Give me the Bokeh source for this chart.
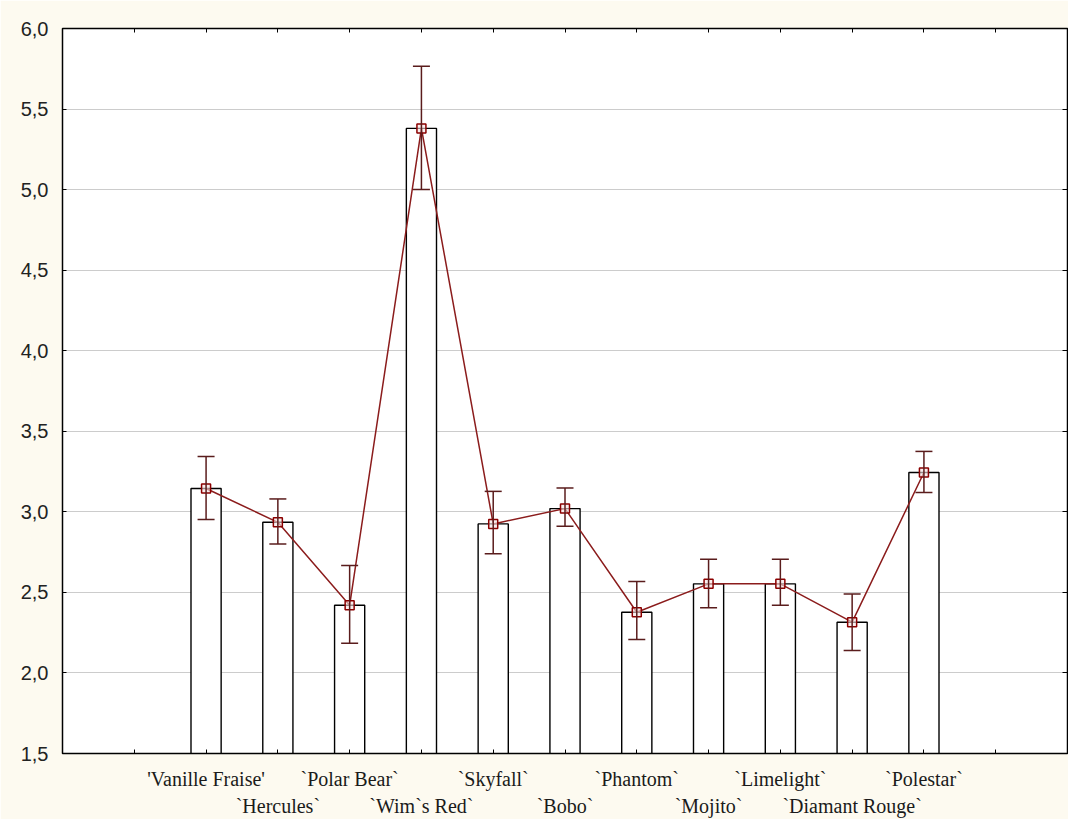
from bokeh.plotting import figure
from bokeh.models import (LinearAxis, FixedTicker, CustomJSTickFormatter, ColumnDataSource,
                          Whisker, TeeHead, Range1d, Grid)
from bokeh.embed import file_html
from bokeh.resources import INLINE

# ---- data ----
cultivars = ["'Vanille Fraise'", "`Hercules`", "`Polar Bear`", "`Wim`s Red`", "`Skyfall`",
             "`Bobo`", "`Phantom`", "`Mojito`", "`Limelight`", "`Diamant Rouge`", "`Polestar`"]
means = [3.145, 2.935, 2.42, 5.38, 2.925, 3.02, 2.377, 2.553, 2.553, 2.315, 3.244]
upper = [3.343, 3.08, 2.667, 5.766, 3.127, 3.148, 2.567, 2.705, 2.705, 2.49, 3.375]
lower = [2.952, 2.80, 2.185, 5.00, 2.74, 2.91, 2.207, 2.405, 2.42, 2.14, 3.12]
y_ticks = [1.5, 2.0, 2.5, 3.0, 3.5, 4.0, 4.5, 5.0, 5.5, 6.0]

positions = [i + 1 for i in range(len(cultivars))]
all_slots = list(range(0, len(cultivars) + 2))
row1 = {pos: name for pos, name in zip(positions, cultivars) if pos % 2 == 1}
row2 = {pos: name for pos, name in zip(positions, cultivars) if pos % 2 == 0}

src = ColumnDataSource(dict(x=positions, mean=means, upper=upper, lower=lower))

p = figure(frame_width=1005, frame_height=725,
           x_range=Range1d(-1, len(cultivars) + 2), y_range=Range1d(y_ticks[0], y_ticks[-1]),
           output_backend="svg", toolbar_location=None,
           x_axis_location=None, y_axis_location=None,
           min_border_left=62, min_border_top=28, min_border_right=1, min_border_bottom=10)
p.renderers = []
p.center = [r for r in p.center if not isinstance(r, Grid)]
p.background_fill_color = "white"
p.border_fill_color = "#FDFAF0"
p.outline_line_color = "black"
p.outline_line_width = 1.5

empty_fmt = CustomJSTickFormatter(code="return ''")

# left axis
yax = LinearAxis(ticker=FixedTicker(ticks=y_ticks),
                 formatter=CustomJSTickFormatter(code="return tick.toFixed(1).replace('.', ',')"),
                 major_tick_in=4, major_tick_out=0, minor_tick_line_color=None,
                 axis_line_color="black", major_tick_line_color="black",
                 major_label_standoff=14,
                 major_label_text_font="Arial", major_label_text_font_size="20px",
                 major_label_text_color="#222222")
p.add_layout(yax, "left")

# right axis (ticks only)
rax = LinearAxis(ticker=FixedTicker(ticks=y_ticks), formatter=empty_fmt,
                 major_tick_in=5, major_tick_out=0, minor_tick_line_color=None,
                 major_label_standoff=0, major_label_text_font_size="0px",
                 axis_line_color="black")
p.add_layout(rax, "right")

# top axis (ticks only)
tax = LinearAxis(ticker=FixedTicker(ticks=all_slots), formatter=empty_fmt,
                 major_tick_in=4, major_tick_out=0, minor_tick_line_color=None,
                 major_label_standoff=0, major_label_text_font_size="0px",
                 axis_line_color="black")
p.add_layout(tax, "above")

# bottom axes: two staggered rows of category labels
bax1 = LinearAxis(ticker=FixedTicker(ticks=all_slots), formatter=empty_fmt,
                  major_label_overrides=row1,
                  major_tick_in=4, major_tick_out=0, minor_tick_line_color=None,
                  axis_line_color="black", major_label_standoff=14,
                  major_label_text_font="Times", major_label_text_font_size="20px",
                  major_label_text_color="#1a1a1a")
p.add_layout(bax1, "below")
bax2 = LinearAxis(ticker=FixedTicker(ticks=positions), formatter=empty_fmt,
                  major_label_overrides=row2,
                  major_tick_line_color=None, minor_tick_line_color=None,
                  axis_line_color=None, major_label_standoff=-4,
                  major_label_text_font="Times", major_label_text_font_size="20px",
                  major_label_text_color="#1a1a1a")
p.add_layout(bax2, "below")

p.add_layout(Grid(dimension=1, ticker=yax.ticker, grid_line_color="#cccccc", grid_line_width=1))

# bars
p.vbar(x="x", top="mean", bottom=y_ticks[0], width=0.42, source=src,
       fill_color="white", line_color="black", line_width=1.4)

# mean line
p.line(x="x", y="mean", source=src, line_color="#8b1c1c", line_width=1.5)

# error bars
wcol = "#5a1c1c"
w = Whisker(source=src, base="x", upper="upper", lower="lower", dimension="height",
            line_color=wcol, line_width=1.5, level="annotation",
            upper_head=TeeHead(size=17, line_color=wcol, line_width=1.5),
            lower_head=TeeHead(size=17, line_color=wcol, line_width=1.5))
p.add_layout(w)

# markers
p.scatter(x="x", y="mean", source=src, marker="square", size=9,
          line_color="#8b0000", line_width=1.5, fill_color="#f6e4e4", fill_alpha=0.6)

open("out.html", "w").write(file_html(p, INLINE))
